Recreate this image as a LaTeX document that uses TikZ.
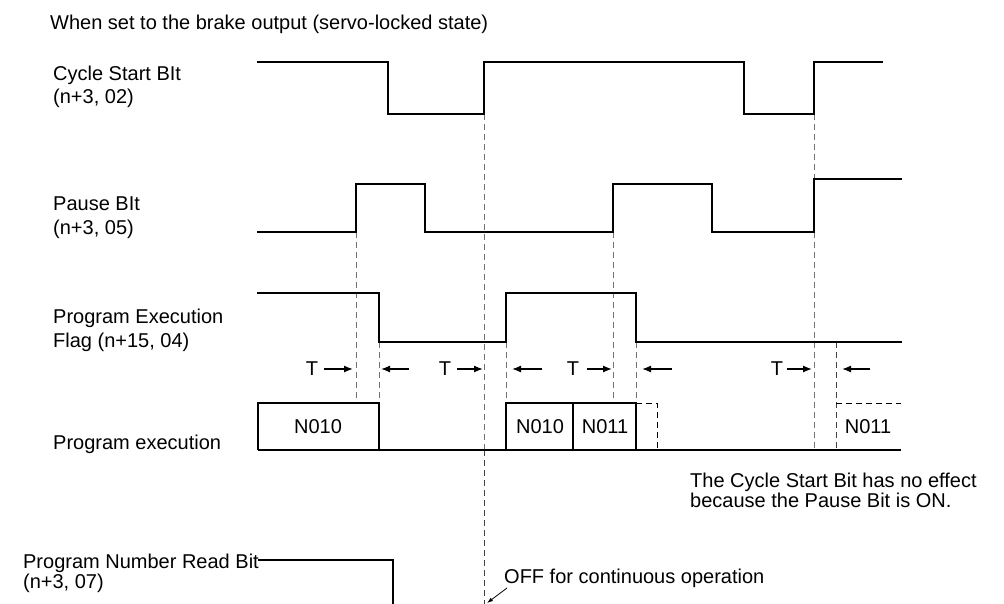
\documentclass[tikz,border=0pt]{standalone}
\usepackage{fontspec}
\setmainfont{Liberation Sans}
\usetikzlibrary{arrows.meta}
\begin{document}
\begin{tikzpicture}[x=1pt,y=-1pt,
  sig/.style={line width=1.4pt, line join=miter, line cap=rect},
  guide/.style={draw=black!55, line width=0.9pt, dash pattern=on 6pt off 4pt},
  dguide/.style={draw=black!75, line width=0.9pt, dash pattern=on 6pt off 4pt},
  lbl/.style={anchor=base west, inner sep=0pt, font=\fontsize{20}{23}\selectfont},
  boxtxt/.style={inner sep=0pt, font=\fontsize{20}{23}\selectfont},
  tarrow/.style={-{Latex[length=9pt,width=7pt]}, line width=1.3pt},
  tlbl/.style={inner sep=0pt, font=\fontsize{20}{23}\selectfont}]
\useasboundingbox (0,0) rectangle (1004,604);

% ---- labels ----
\node[lbl] (title) at (50,30) {When set to the brake output (servo-locked state)};
\node[lbl] (cs1) at (53,81) {Cycle Start BIt};
\node[lbl] (cs2) at (53,104) {(n+3, 02)};
\node[lbl] (pb1) at (53,211) {Pause BIt};
\node[lbl] (pb2) at (53,234) {(n+3, 05)};
\node[lbl] (pe1) at (53,323) {Program Execution};
\node[lbl] (pe2) at (53,347) {Flag (n+15, 04)};
\node[lbl] (px) at (53,449) {Program execution};
\node[lbl,anchor=base east] (pn1) at (259,568) {Program Number Read Bit};
\node[lbl] (pn2) at (pn1.base west) [yshift=-20pt] {(n+3, 07)};
\node[lbl] (note1) at (690,487) {The Cycle Start Bit has no effect};
\node[lbl] (note2) at (690,507) {because the Pause Bit is ON.};
\node[lbl] (off) at (504,583) {OFF for continuous operation};

% ---- guide lines (dashed) ----
\draw[guide] (356,232) -- (356,403);
\draw[guide] (379,342) -- (379,403);
\draw[guide] (484,114) -- (484,450);
\draw[dguide] (484,450) -- (484,604);
\draw[guide] (506,342) -- (506,403);
\draw[guide] (613,232) -- (613,403);
\draw[guide] (636,342) -- (636,403);
\draw[guide] (814,114) -- (814,179);
\draw[guide] (814,232) -- (814,450);
\draw[dguide] (836,342) -- (836,450);

% ---- Cycle Start Bit ----
\draw[sig] (258,62) -- (388,62) -- (388,114) -- (484,114) -- (484,62)
  -- (744,62) -- (744,114) -- (814,114) -- (814,62) -- (882,62);

% ---- Pause Bit ----
\draw[sig] (258,232) -- (356,232) -- (356,184) -- (425,184) -- (425,232)
  -- (613,232) -- (613,184) -- (712,184) -- (712,232) -- (814,232)
  -- (814,179) -- (901,179);

% ---- Program Execution Flag ----
\draw[sig] (258,293) -- (379,293) -- (379,342) -- (506,342) -- (506,293)
  -- (636,293) -- (636,342) -- (901,342);

% ---- T arrows ----
\node[tlbl] (t1) at (312,369) {T};
\node[tlbl] (t2) at (445,369) {T};
\node[tlbl] (t3) at (573,369) {T};
\node[tlbl] (t4) at (777,369) {T};
\draw[tarrow] (324,369) -- (353,369);
\draw[tarrow] (409,369) -- (381,369);
\draw[tarrow] (457,369) -- (483,369);
\draw[tarrow] (542,369) -- (512,369);
\draw[tarrow] (587,369) -- (612,369);
\draw[tarrow] (672,369) -- (642,369);
\draw[tarrow] (787,369) -- (812,369);
\draw[tarrow] (870,369) -- (842,369);

% ---- Program execution ----
\draw[line width=1.2pt] (258,450) -- (901,450);
\draw[line width=1.2pt] (258,450) -- (258,403) -- (379,403) -- (379,450);
\draw[line width=1.2pt] (506,450) -- (506,403) -- (636,403) -- (636,450);
\draw[line width=1.1pt] (573,403) -- (573,450);
\node[boxtxt] (b1) at (318,427) {N010};
\node[boxtxt] (b2) at (540,427) {N010};
\node[boxtxt] (b3) at (605,427) {N011};
\draw[guide,draw=black] (636,403) -- (657,403) -- (657,450);
\draw[guide,draw=black] (836,403) -- (901,403);
\node[boxtxt] (b4) at (868,427) {N011};

% ---- Program Number Read Bit ----
\draw[sig] (pn1.base east) ++(0,-8) -- (393,560) -- (393,604);

% ---- OFF arrow ----
\coordinate (offtip) at (487,603);
\draw[-{Latex[length=6pt,width=4pt]}, line width=0.8pt] (507,588) -- (offtip);
\end{tikzpicture}
\end{document}
